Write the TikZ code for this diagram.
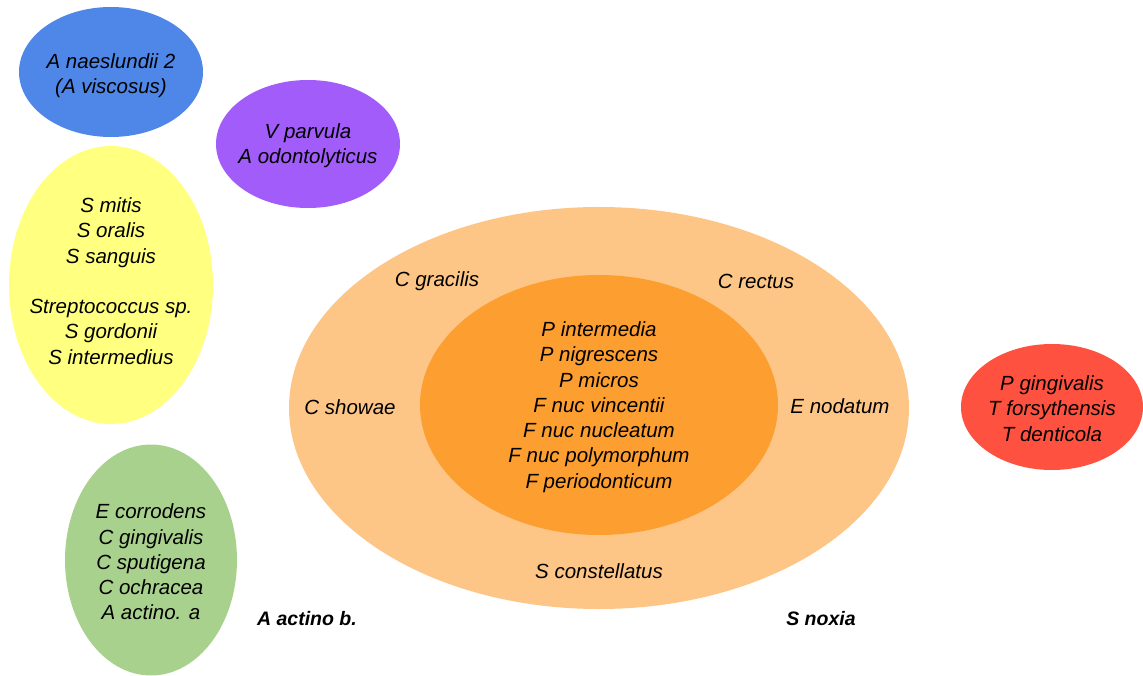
\documentclass[tikz,border=0pt]{standalone}
\usepackage{fontspec}
\setmainfont{Liberation Sans}
\usetikzlibrary{shapes.geometric}
\definecolor{cblue}{HTML}{4F87E8}
\definecolor{cpurple}{HTML}{A25CF9}
\definecolor{cyellow}{HTML}{FFFF80}
\definecolor{cgreen}{HTML}{A9D18E}
\definecolor{couter}{HTML}{FDC687}
\definecolor{cinner}{HTML}{FD9E30}
\definecolor{cred}{HTML}{FE5140}
\begin{document}
\begin{tikzpicture}[x=1pt,y=-1pt,
  blob/.style={ellipse, draw=none, inner sep=0pt},
  lbl/.style={inner sep=0pt, align=center, font=\fontsize{20.5}{25.3}\selectfont\itshape},
  blbl/.style={inner sep=0pt, font=\fontsize{19.5}{24}\selectfont\bfseries\itshape}]
\useasboundingbox (0,0) rectangle (1143,676);
\node[blob, fill=cblue, minimum width=184pt, minimum height=130pt] (blue) at (111,72) {};
\node[blob, fill=cpurple, minimum width=184pt, minimum height=128pt] (purple) at (308,144) {};
\node[blob, fill=cyellow, minimum width=204pt, minimum height=278pt] (yellow) at (111,285) {};
\node[blob, fill=cgreen, minimum width=172pt, minimum height=231pt] (green) at (151,560) {};
\node[blob, fill=couter, minimum width=620pt, minimum height=402pt] (outer) at (599,408) {};
\node[blob, fill=cinner, minimum width=358pt, minimum height=260pt] (inner) at (599,405) {};
\node[blob, fill=cred, minimum width=182pt, minimum height=126pt] (red) at (1052,407) {};
\node[lbl] (tblue) at (111,76) {A naeslundii 2\\(A viscosus)};
\node[lbl] (tpurple) at (308,146) {V parvula\\A odontolyticus};
\node[lbl] (tyellow) at (111,281)
  {S mitis\\S oralis\\S sanguis\\[25.3pt]Streptococcus sp.\\S gordonii\\S intermedius};
\node[lbl] (tgreen) at (151,562) {E corrodens\\C gingivalis\\C sputigena\\C ochracea\\A actino. a};
\node[lbl] (tinner) at (599,407)
  {P intermedia\\P nigrescens\\P micros\\F nuc vincentii\\F nuc nucleatum\\F nuc polymorphum\\F periodonticum};
\node[lbl] (tred) at (1052,408.5) {P gingivalis\\T forsythensis\\T denticola};
\node[lbl] (cgr) at (437,281) {C gracilis};
\node[lbl] (cre) at (756,281) {C rectus};
\node[lbl] (csh) at (350,407) {C showae};
\node[lbl] (eno) at (840,406) {E nodatum};
\node[lbl] (sco) at (599,571) {S constellatus};
\node[blbl] (aab) at (307,619) {A actino b.};
\node[blbl] (sno) at (821,619) {S noxia};
\end{tikzpicture}
\end{document}
